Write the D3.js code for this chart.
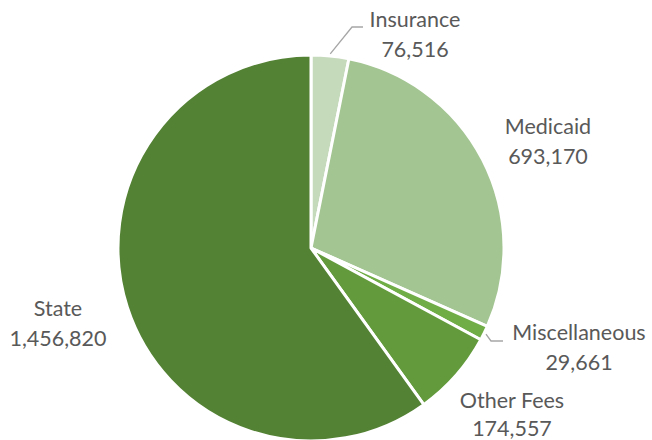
<!DOCTYPE html>
<html lang="en">
<head>
<meta charset="UTF-8">
<title>Revenue sources</title>
<script src="https://cdn.jsdelivr.net/npm/d3@7"></script>
<style>
  body { margin: 0; background: #fff; }
  text { font-family: Lato, "Open Sans", sans-serif; fill: #595959; }
</style>
</head>
<body>
<div id="chart"></div>
<script>
// data
var categories = ["Insurance", "Medicaid", "Miscellaneous", "Other Fees", "State"];
var values = [76516, 693170, 29661, 174557, 1456820];
var colors = ["#c5d9bb", "#a3c592", "#70ad47", "#639b3c", "#548235"];

var width = 652, height = 440;
var cx = 311, cy = 248, radius = 193;

// label spots: centre x and baseline of the first line
var labelPos = [[415, 27], [548, 134], [579, 340], [512, 408], [58, 316]];

var svg = d3.select("#chart").append("svg")
  .attr("width", width)
  .attr("height", height);

var pie = d3.pie().sort(null).value(function(d) { return d; });
var arc = d3.arc().innerRadius(0).outerRadius(radius);
var arcs = pie(values);

var g = svg.append("g").attr("transform", "translate(" + cx + "," + cy + ")");

g.selectAll("path")
  .data(arcs)
  .enter().append("path")
  .attr("d", arc)
  .attr("fill", function(d, i) { return colors[i]; })
  .attr("stroke", "#fff")
  .attr("stroke-width", 3)
  .attr("stroke-linejoin", "round");

// leader lines for the two narrow slices
var edge = d3.arc().innerRadius(radius + 2).outerRadius(radius + 2);
function leader(i, pts) {
  var c = edge.centroid(arcs[i]);
  var p = [[c[0] + cx, c[1] + cy]].concat(pts);
  svg.append("polyline")
    .attr("points", p.map(function(q) { return q.join(","); }).join(" "))
    .attr("fill", "none")
    .attr("stroke", "#a6a6a6")
    .attr("stroke-width", 1.3);
}
leader(0, [[352, 27], [363, 27]]);
leader(2, [[491, 341], [503, 341]]);

var fmt = d3.format(",");
var labels = svg.selectAll("text.lbl")
  .data(categories)
  .enter().append("text")
  .attr("class", "lbl")
  .attr("text-anchor", "middle")
  .style("font-size", "21.5px");

labels.append("tspan")
  .attr("x", function(d, i) { return labelPos[i][0]; })
  .attr("y", function(d, i) { return labelPos[i][1]; })
  .text(function(d) { return d; });

labels.append("tspan")
  .attr("x", function(d, i) { return labelPos[i][0]; })
  .attr("y", function(d, i) { return Math.min(labelPos[i][1] + 30, 436); })
  .text(function(d, i) { return fmt(values[i]); });
</script>
</body>
</html>
